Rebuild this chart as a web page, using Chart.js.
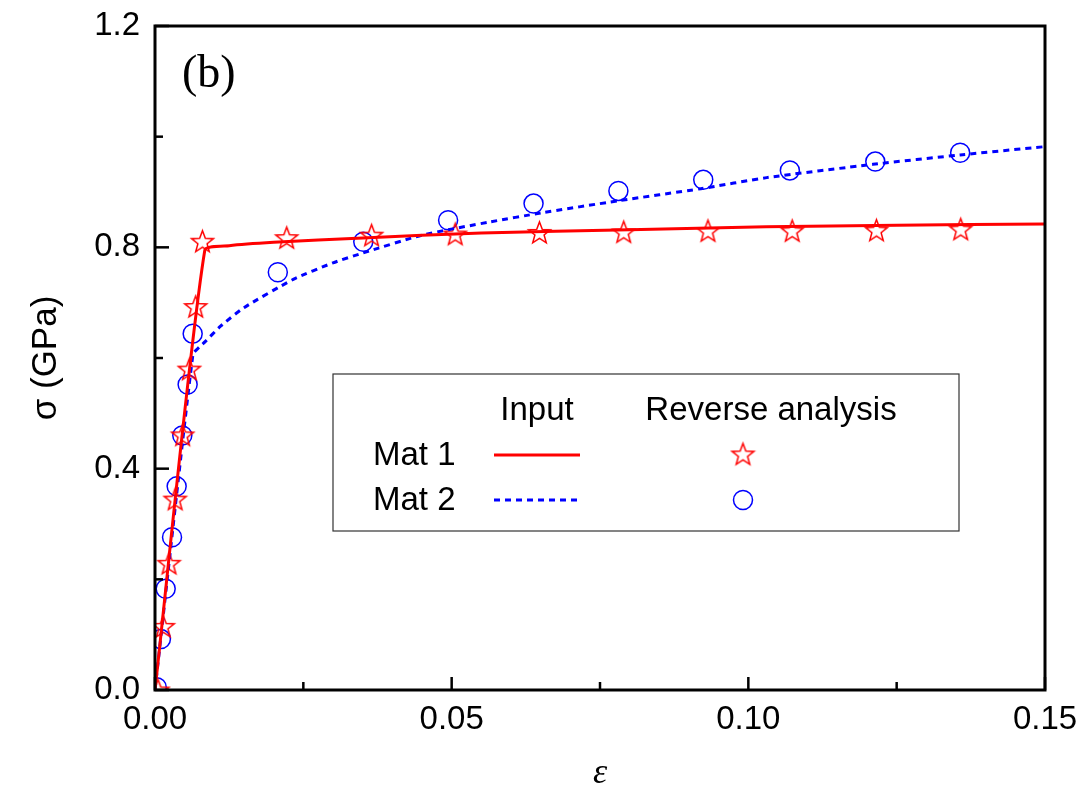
<!DOCTYPE html>
<html lang="en">
<head>
    <meta charset="UTF-8">
    <title>Stress-strain curves</title>
    <script src="https://cdn.jsdelivr.net/npm/chart.js"></script>
    <style>
        body { margin: 0; background: #fff; }
        canvas { display: block; }
    </style>
</head>
<body>
    <canvas id="grafica" width="1085" height="791"></canvas>

    <script>
        // Input curves (lines)
        const mat1LineX = [0, 0.0084, 0.0125, 0.02, 0.035, 0.055, 0.08, 0.103, 0.125, 0.15];
        const mat1LineY = [0, 0.795, 0.803, 0.809, 0.817, 0.826, 0.832, 0.837, 0.840, 0.842];

        const mat2LineX = [0, 0.0064, 0.0075, 0.0085, 0.011, 0.015, 0.0233, 0.030, 0.0351, 0.045, 0.0565, 0.065, 0.078, 0.092, 0.1031, 0.121, 0.1357, 0.15];
        const mat2LineY = [0, 0.607, 0.620, 0.630, 0.657, 0.691, 0.742, 0.772, 0.790, 0.822, 0.846, 0.862, 0.884, 0.906, 0.926, 0.950, 0.967, 0.982];

        // Reverse analysis results (markers)
        const mat1StarX = [0.0005, 0.0014, 0.00236, 0.0034, 0.00466, 0.00579, 0.00686, 0.0080, 0.0222, 0.0365, 0.0506, 0.0648, 0.079, 0.0932, 0.1074, 0.1216, 0.1358];
        const mat1StarY = [0.0, 0.115, 0.229, 0.345, 0.461, 0.580, 0.693, 0.811, 0.8175, 0.822, 0.824, 0.827, 0.828, 0.830, 0.830, 0.831, 0.833];

        const mat2CircX = [0.0003, 0.0010, 0.0018, 0.00287, 0.00365, 0.0046, 0.0055, 0.00635, 0.0207, 0.0351, 0.0494, 0.0638, 0.0781, 0.0924, 0.107, 0.1214, 0.1357];
        const mat2CircY = [0.005, 0.092, 0.183, 0.276, 0.368, 0.460, 0.552, 0.644, 0.755, 0.810, 0.849, 0.879, 0.902, 0.922, 0.939, 0.955, 0.971];

        const xTicks = [0, 0.05, 0.10, 0.15];
        const yTicks = [0, 0.4, 0.8, 1.2];

        const ROJO = '#ff0000';
        const AZUL = '#0000ff';
        const fuente = "'Liberation Sans', Arial, sans-serif";

        function pares(xs, ys) {
            return xs.map((x, i) => ({ x: x, y: ys[i] }));
        }

        // Outlined star used as marker
        function hacerEstrella(r) {
            const c = document.createElement('canvas');
            const s = Math.ceil(r * 2 + 4);
            c.width = s; c.height = s;
            const g = c.getContext('2d');
            g.strokeStyle = ROJO;
            g.lineWidth = 1.5;
            g.beginPath();
            for (let i = 0; i < 10; i++) {
                const rr = i % 2 === 0 ? r : r * 0.42;
                const a = -Math.PI / 2 + i * Math.PI / 5;
                const px = s / 2 + rr * Math.cos(a);
                const py = s / 2 + 1 + rr * Math.sin(a);
                if (i === 0) g.moveTo(px, py); else g.lineTo(px, py);
            }
            g.closePath();
            g.stroke();
            return c;
        }
        const estrella = hacerEstrella(11.5);

        // Frame, inward ticks, panel label and table legend
        const decoracion = {
            id: 'decoracion',
            afterDraw(chart) {
                const ctx = chart.ctx;
                const a = chart.chartArea;
                const sx = chart.scales.x, sy = chart.scales.y;
                ctx.save();
                ctx.strokeStyle = '#000';
                ctx.lineWidth = 3;
                ctx.strokeRect(a.left, a.top, a.right - a.left, a.bottom - a.top);

                ctx.lineWidth = 2.5;
                for (let i = 0; i <= 6; i++) {
                    const v = i * 0.025;
                    const px = sx.getPixelForValue(v);
                    const len = i % 2 === 0 ? 13 : 8;
                    ctx.beginPath();
                    ctx.moveTo(px, a.bottom);
                    ctx.lineTo(px, a.bottom - len);
                    ctx.stroke();
                }
                for (let i = 0; i <= 6; i++) {
                    const v = i * 0.2;
                    const py = sy.getPixelForValue(v);
                    const len = i % 2 === 0 ? 14 : 8;
                    ctx.beginPath();
                    ctx.moveTo(a.left, py);
                    ctx.lineTo(a.left + len, py);
                    ctx.stroke();
                }

                // (b)
                ctx.fillStyle = '#000';
                ctx.font = "46px 'Liberation Serif', 'Times New Roman', serif";
                ctx.textAlign = 'left';
                ctx.textBaseline = 'middle';
                ctx.fillText('(b)', 182, 75);

                // legend box
                ctx.lineWidth = 1.2;
                ctx.strokeStyle = '#333';
                ctx.strokeRect(333, 374, 626, 157);

                ctx.font = '33px ' + fuente;
                ctx.textAlign = 'center';
                ctx.fillText('Input', 537, 411);
                ctx.fillText('Reverse analysis', 771, 411);
                ctx.textAlign = 'left';
                ctx.fillText('Mat 1', 373, 456);
                ctx.fillText('Mat 2', 373, 501);

                ctx.lineWidth = 3;
                ctx.strokeStyle = ROJO;
                ctx.beginPath();
                ctx.moveTo(494, 455); ctx.lineTo(580, 455);
                ctx.stroke();
                ctx.strokeStyle = AZUL;
                ctx.setLineDash([6, 5]);
                ctx.beginPath();
                ctx.moveTo(494, 500); ctx.lineTo(580, 500);
                ctx.stroke();
                ctx.setLineDash([]);

                ctx.drawImage(estrella, 743 - estrella.width / 2, 454 - estrella.height / 2);
                ctx.lineWidth = 1.5;
                ctx.strokeStyle = AZUL;
                ctx.beginPath();
                ctx.arc(743, 500, 9.5, 0, Math.PI * 2);
                ctx.stroke();
                ctx.restore();
            }
        };

        const ctx = document.getElementById('grafica').getContext('2d');
        new Chart(ctx, {
            type: 'line',
            data: {
                datasets: [
                    {
                        label: 'Mat 1 Input',
                        data: pares(mat1LineX, mat1LineY),
                        borderColor: ROJO,
                        borderWidth: 3,
                        pointRadius: 0,
                        tension: 0.2,
                        fill: false
                    },
                    {
                        label: 'Mat 2 Input',
                        data: pares(mat2LineX, mat2LineY),
                        borderColor: AZUL,
                        borderWidth: 3,
                        borderDash: [6, 5],
                        pointRadius: 0,
                        tension: 0.2,
                        fill: false
                    },
                    {
                        label: 'Mat 1 Reverse analysis',
                        data: pares(mat1StarX, mat1StarY),
                        showLine: false,
                        pointStyle: estrella,
                        pointRadius: 11
                    },
                    {
                        label: 'Mat 2 Reverse analysis',
                        data: pares(mat2CircX, mat2CircY),
                        showLine: false,
                        pointStyle: 'circle',
                        pointRadius: 9.5,
                        pointBorderWidth: 1.5,
                        pointBorderColor: AZUL,
                        pointBackgroundColor: 'rgba(0,0,0,0)'
                    }
                ]
            },
            options: {
                responsive: false,
                animation: false,
                layout: { padding: { left: 0, right: 40, top: 26, bottom: 0 } },
                plugins: {
                    legend: { display: false },
                    tooltip: { enabled: false }
                },
                scales: {
                    x: {
                        type: 'linear',
                        min: 0,
                        max: 0.15,
                        afterFit: s => { s.height = 101; s.paddingLeft = 0; s.paddingRight = 0; },
                        afterBuildTicks: s => { s.ticks = xTicks.map(v => ({ value: v })); },
                        grid: { display: false, drawTicks: false },
                        border: { display: false },
                        ticks: {
                            color: '#000',
                            padding: 10,
                            maxRotation: 0,
                            font: { family: fuente, size: 33 },
                            callback: v => v.toFixed(2)
                        },
                        title: {
                            display: true,
                            text: 'ε',
                            color: '#000',
                            padding: { top: 0, bottom: -4 },
                            font: { family: "'Liberation Serif', 'Times New Roman', serif", size: 36, style: 'italic' }
                        }
                    },
                    y: {
                        type: 'linear',
                        min: 0,
                        max: 1.2,
                        afterFit: s => { s.width = 155; s.paddingTop = 0; s.paddingBottom = 0; },
                        afterBuildTicks: s => { s.ticks = yTicks.map(v => ({ value: v })); },
                        grid: { display: false, drawTicks: false },
                        border: { display: false },
                        ticks: {
                            color: '#000',
                            padding: 15,
                            font: { family: fuente, size: 33 },
                            callback: v => v.toFixed(1)
                        },
                        title: {
                            display: true,
                            text: 'σ (GPa)',
                            color: '#000',
                            padding: { top: 25, bottom: 0 },
                            font: { family: fuente, size: 35 }
                        }
                    }
                }
            },
            plugins: [decoracion]
        });
    </script>
</body>
</html>
